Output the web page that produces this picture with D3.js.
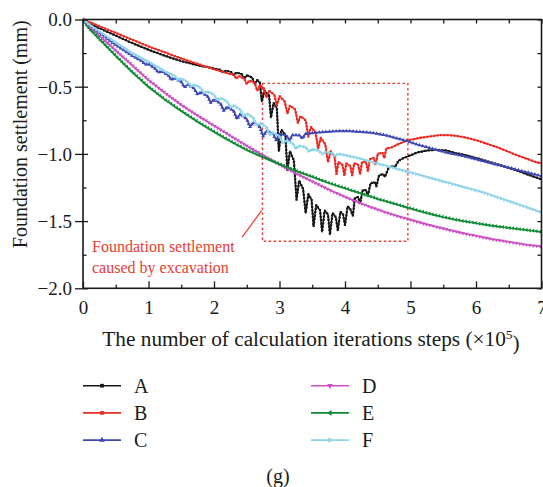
<!DOCTYPE html>
<html>
<head>
<meta charset="utf-8">
<script src="https://cdn.jsdelivr.net/npm/d3@7"></script>
<style>
  body { margin: 0; background: #fff; }
  text { font-family: "Liberation Serif", "DejaVu Serif", serif; fill: #1a1a1a; }
</style>
</head>
<body>
<div id="chart"></div>
<script>
// series names and colours
const seriesNames = ["A", "B", "C", "D", "E", "F"];
const seriesColors = ["#161616", "#ec2a22", "#3f47b3", "#cc4fc6", "#0e8c34", "#8dd5ea"];

// [calculation steps (x10^5), settlement (mm)]
const pointsA = [[0,0],[0.1,-0.03],[0.25,-0.065],[0.5,-0.12],[0.75,-0.175],[1.0,-0.225],[1.25,-0.27],[1.5,-0.31],[1.75,-0.34],[2.0,-0.365],
  [2.1,-0.375],[2.14,-0.395],[2.18,-0.38],[2.26,-0.39],[2.3,-0.415],[2.34,-0.395],[2.42,-0.405],[2.46,-0.44],[2.5,-0.415],[2.58,-0.43],
  [2.62,-0.48],[2.66,-0.45],[2.7,-0.47],[2.73,-0.61],[2.77,-0.53],[2.84,-0.56],[2.87,-0.73],[2.91,-0.62],[2.96,-0.66],[2.99,-0.98],
  [3.03,-0.82],[3.09,-0.86],[3.12,-1.12],[3.16,-0.98],[3.22,-1.05],[3.26,-1.34],[3.3,-1.2],[3.36,-1.26],[3.4,-1.44],[3.44,-1.3],
  [3.49,-1.34],[3.52,-1.54],[3.56,-1.38],[3.62,-1.42],[3.65,-1.58],[3.69,-1.42],[3.74,-1.45],[3.77,-1.6],[3.81,-1.44],[3.86,-1.47],
  [3.89,-1.57],[3.93,-1.43],[3.97,-1.45],[4.0,-1.53],[4.04,-1.39],[4.08,-1.41],[4.12,-1.46],[4.15,-1.33],[4.2,-1.32],[4.23,-1.37],
  [4.27,-1.27],[4.32,-1.27],[4.35,-1.31],[4.39,-1.22],[4.45,-1.21],[4.48,-1.24],[4.52,-1.16],[4.58,-1.15],[4.61,-1.17],[4.66,-1.11],
  [4.72,-1.09],[4.76,-1.1],[4.82,-1.05],[4.9,-1.03],[5.0,-1.01],[5.1,-0.99],[5.25,-0.975],[5.4,-0.97],[5.55,-0.975],[5.7,-0.995],
  [5.85,-1.01],[6.0,-1.03],[6.2,-1.06],[6.4,-1.09],[6.6,-1.12],[6.8,-1.155],[7.0,-1.19]];

const pointsB = [[0,0],[0.1,-0.02],[0.25,-0.05],[0.5,-0.1],[0.75,-0.15],[1.0,-0.2],[1.25,-0.245],[1.5,-0.29],[1.75,-0.33],[2.0,-0.37],
  [2.2,-0.4],[2.3,-0.41],[2.34,-0.44],[2.38,-0.42],[2.46,-0.44],[2.5,-0.48],[2.54,-0.455],[2.62,-0.47],[2.66,-0.53],[2.7,-0.49],
  [2.76,-0.51],[2.8,-0.58],[2.84,-0.53],[2.92,-0.56],[2.96,-0.64],[3.0,-0.57],[3.08,-0.61],[3.12,-0.7],[3.16,-0.64],[3.24,-0.67],
  [3.28,-0.77],[3.32,-0.72],[3.4,-0.75],[3.44,-0.87],[3.48,-0.8],[3.55,-0.84],[3.59,-0.96],[3.63,-0.88],[3.7,-0.93],[3.74,-1.06],
  [3.78,-0.98],[3.84,-1.02],[3.87,-1.15],[3.9,-1.06],[3.96,-1.08],[3.99,-1.16],[4.02,-1.07],[4.08,-1.09],[4.11,-1.16],[4.14,-1.07],
  [4.2,-1.08],[4.23,-1.15],[4.26,-1.06],[4.32,-1.06],[4.35,-1.13],[4.38,-1.04],[4.44,-1.03],[4.47,-1.08],[4.5,-1.0],[4.57,-0.99],
  [4.6,-1.03],[4.63,-0.96],[4.72,-0.95],[4.8,-0.93],[4.9,-0.91],[5.0,-0.895],[5.15,-0.88],[5.3,-0.87],[5.45,-0.86],[5.6,-0.86],
  [5.75,-0.87],[5.9,-0.885],[6.05,-0.905],[6.2,-0.93],[6.35,-0.955],[6.5,-0.985],[6.65,-1.015],[6.8,-1.04],[6.9,-1.06],[7.0,-1.07]];

const pointsC = [[0,0],[0.1,-0.05],[0.25,-0.1],[0.5,-0.19],[0.75,-0.27],[0.9,-0.31],[0.95,-0.335],[1.0,-0.33],[1.1,-0.365],[1.15,-0.395],
  [1.2,-0.385],[1.3,-0.415],[1.35,-0.45],[1.4,-0.435],[1.5,-0.465],[1.55,-0.505],[1.6,-0.485],[1.7,-0.515],[1.75,-0.56],[1.8,-0.54],
  [1.9,-0.57],[1.95,-0.62],[2.0,-0.595],[2.1,-0.625],[2.15,-0.68],[2.2,-0.65],[2.3,-0.68],[2.35,-0.74],[2.4,-0.705],[2.5,-0.74],
  [2.55,-0.8],[2.6,-0.765],[2.7,-0.8],[2.75,-0.87],[2.8,-0.83],[2.9,-0.85],[2.95,-0.9],[3.0,-0.85],[3.1,-0.86],[3.15,-0.9],
  [3.2,-0.86],[3.3,-0.86],[3.35,-0.885],[3.4,-0.85],[3.5,-0.845],[3.6,-0.84],[3.75,-0.835],[3.9,-0.83],[4.05,-0.83],[4.2,-0.835],
  [4.35,-0.84],[4.5,-0.85],[4.65,-0.865],[4.8,-0.885],[4.95,-0.905],[5.1,-0.93],[5.25,-0.95],[5.4,-0.97],[5.55,-0.99],[5.7,-1.005],
  [5.85,-1.02],[6.0,-1.04],[6.2,-1.065],[6.4,-1.09],[6.6,-1.115],[6.8,-1.14],[7.0,-1.165]];

const pointsD = [[0,0],[0.05,-0.03],[0.1,-0.055],[0.25,-0.12],[0.5,-0.23],[0.75,-0.34],[1.0,-0.45],[1.25,-0.545],[1.5,-0.635],[1.75,-0.715],
  [2.0,-0.79],[2.25,-0.865],[2.5,-0.94],[2.75,-1.01],[3.0,-1.08],[3.25,-1.145],[3.5,-1.205],[3.75,-1.265],[4.0,-1.32],[4.25,-1.37],
  [4.5,-1.415],[4.75,-1.455],[5.0,-1.49],[5.25,-1.525],[5.5,-1.555],[5.75,-1.585],[6.0,-1.61],[6.25,-1.635],[6.5,-1.655],[6.75,-1.675],
  [7.0,-1.69]];

const pointsE = [[0,0],[0.05,-0.04],[0.1,-0.07],[0.25,-0.145],[0.5,-0.27],[0.75,-0.39],[1.0,-0.5],[1.25,-0.595],[1.5,-0.68],[1.75,-0.76],
  [2.0,-0.835],[2.25,-0.905],[2.5,-0.97],[2.75,-1.025],[3.0,-1.075],[3.25,-1.125],[3.5,-1.17],[3.75,-1.215],[4.0,-1.255],[4.25,-1.295],
  [4.5,-1.335],[4.75,-1.37],[5.0,-1.405],[5.25,-1.44],[5.5,-1.47],[5.75,-1.495],[6.0,-1.515],[6.25,-1.535],[6.5,-1.55],[6.75,-1.565],
  [7.0,-1.58]];

const pointsF = [[0,0],[0.1,-0.04],[0.25,-0.09],[0.5,-0.17],[0.75,-0.25],[1.0,-0.315],[1.25,-0.385],[1.4,-0.42],[1.45,-0.45],[1.5,-0.44],
  [1.6,-0.465],[1.65,-0.5],[1.7,-0.485],[1.8,-0.51],[1.85,-0.55],[1.9,-0.535],[2.0,-0.56],[2.05,-0.6],[2.1,-0.585],[2.2,-0.61],
  [2.25,-0.655],[2.3,-0.64],[2.4,-0.67],[2.45,-0.72],[2.5,-0.7],[2.6,-0.73],[2.65,-0.79],[2.7,-0.77],[2.8,-0.8],[2.85,-0.86],
  [2.9,-0.84],[3.0,-0.87],[3.05,-0.92],[3.1,-0.9],[3.2,-0.92],[3.25,-0.96],[3.3,-0.94],[3.4,-0.95],[3.45,-0.985],[3.5,-0.965],
  [3.6,-0.975],[3.65,-1.0],[3.7,-0.985],[3.8,-0.995],[3.85,-1.015],[3.9,-1.0],[4.0,-1.01],[4.15,-1.025],[4.3,-1.045],[4.45,-1.065],
  [4.6,-1.085],[4.75,-1.105],[4.9,-1.125],[5.05,-1.145],[5.2,-1.165],[5.35,-1.185],[5.5,-1.205],[5.65,-1.225],[5.8,-1.245],[5.95,-1.265],
  [6.1,-1.285],[6.25,-1.31],[6.4,-1.335],[6.55,-1.36],[6.7,-1.385],[6.85,-1.41],[7.0,-1.435]];

const allPoints = [pointsA, pointsB, pointsC, pointsD, pointsE, pointsF];

// axis ticks and labels
const xTicks = [0, 1, 2, 3, 4, 5, 6, 7];
const xMinorTicks = [0.5, 1.5, 2.5, 3.5, 4.5, 5.5, 6.5];
const yTicks = [0, -0.5, -1, -1.5, -2];
const yMinorTicks = [-0.25, -0.75, -1.25, -1.75];
const xTitle = "The number of calculation iterations steps (\u00d710";
const xTitleSup = "5";
const yTitle = "Foundation settlement (mm)";
const noteLines = ["Foundation settlement", "caused by excavation"];
const panelLabel = "(g)";

const width = 543, height = 487;
const plot = { left: 83, right: 541.5, top: 19.5, bottom: 288.3 };

const svg = d3.select("#chart").append("svg")
    .attr("width", width)
    .attr("height", height);

const x = d3.scaleLinear().domain([0, 7]).range([plot.left, plot.right]);
const y = d3.scaleLinear().domain([-2, 0]).range([plot.bottom, plot.top]);

const symbolTypes = [d3.symbolSquare, d3.symbolSquare, d3.symbolTriangle, d3.symbolTriangle, d3.symbolTriangle, d3.symbolTriangle];
const symbolRotate = [0, 0, 0, 180, -90, 90];

svg.append("clipPath").attr("id", "clip")
  .append("rect")
    .attr("x", plot.left).attr("y", plot.top - 4)
    .attr("width", plot.right - plot.left).attr("height", plot.bottom - plot.top + 4);

// annotation box (behind the curves)
const note = svg.append("g").attr("stroke", "#ee3a30").attr("fill", "none");
note.append("rect")
    .attr("x", x(2.74)).attr("y", y(-0.475))
    .attr("width", x(4.96) - x(2.74)).attr("height", y(-1.65) - y(-0.475))
    .attr("stroke-width", 1.4)
    .attr("stroke-dasharray", "2.5,2.5");
note.append("line")
    .attr("x1", x(2.43)).attr("y1", y(-1.62))
    .attr("x2", x(2.73)).attr("y2", y(-1.42))
    .attr("stroke-width", 1.2);

// curves
const line = d3.line().x(d => x(d[0])).y(d => y(d[1]));
const curves = svg.append("g").attr("clip-path", "url(#clip)");

allPoints.forEach((pts, i) => {
    const path = curves.append("path")
        .datum(pts)
        .attr("fill", "none")
        .attr("stroke", seriesColors[i])
        .attr("stroke-width", 1.4)
        .attr("stroke-linejoin", "round")
        .attr("d", line);

    // dense small markers along the line, as in the original
    const node = path.node();
    const total = node.getTotalLength();
    const marks = [];
    for (let l = 0; l <= total; l += 3.4) marks.push(node.getPointAtLength(l));
    const sym = d3.symbol().type(symbolTypes[i]).size(i < 2 ? 5 : 7)();
    curves.append("g").selectAll("path")
        .data(marks)
        .join("path")
        .attr("d", sym)
        .attr("fill", seriesColors[i])
        .attr("transform", p => `translate(${p.x},${p.y}) rotate(${symbolRotate[i]})`);
});

// axes
const fmtY = d3.format(".1f");

const xAxis = svg.append("g")
    .attr("transform", `translate(0,${plot.bottom})`)
    .call(d3.axisBottom(x).tickValues(xTicks).tickSizeInner(-7).tickSizeOuter(0).tickPadding(12).tickFormat(d3.format("d")));
xAxis.selectAll("text").style("font-size", "19px");

svg.append("g")
    .attr("transform", `translate(0,${plot.bottom})`)
    .call(d3.axisBottom(x).tickValues(xMinorTicks).tickSize(-3.5).tickFormat(""));

svg.append("g")
    .attr("transform", `translate(0,${plot.top})`)
    .call(d3.axisTop(x).tickValues(xTicks.concat(xMinorTicks)).tickSize(-4).tickFormat(""));

const yAxis = svg.append("g")
    .attr("transform", `translate(${plot.left},0)`)
    .call(d3.axisLeft(y).tickValues(yTicks).tickSize(8).tickPadding(3).tickFormat(fmtY));
yAxis.selectAll("text").style("font-size", "19px").attr("dy", "0.34em");

svg.append("g")
    .attr("transform", `translate(${plot.left},0)`)
    .call(d3.axisLeft(y).tickValues(yTicks).tickSize(-5).tickFormat(""));
svg.append("g")
    .attr("transform", `translate(${plot.left},0)`)
    .call(d3.axisLeft(y).tickValues(yMinorTicks).tickSize(-3.5).tickFormat(""));

svg.append("g")
    .attr("transform", `translate(${plot.right},0)`)
    .call(d3.axisRight(y).tickValues(yTicks.concat(yMinorTicks)).tickSize(-4).tickFormat(""));

svg.selectAll(".domain").remove();
svg.selectAll(".tick line").attr("stroke", "#1a1a1a").attr("stroke-width", 1.3);
svg.selectAll(".tick text").attr("fill", "#1a1a1a");

// frame
svg.append("rect")
    .attr("x", plot.left).attr("y", plot.top)
    .attr("width", plot.right - plot.left).attr("height", plot.bottom - plot.top)
    .attr("fill", "none")
    .attr("stroke", "#1a1a1a")
    .attr("stroke-width", 1.6);

// axis titles
const xt = svg.append("text")
    .attr("x", 311).attr("y", 346)
    .attr("text-anchor", "middle")
    .style("font-size", "21.3px")
    .text(xTitle);
xt.append("tspan").attr("dy", "-0.55em").style("font-size", "13.5px").text(xTitleSup);
xt.append("tspan").attr("dy", "0.55em").text(")");

svg.append("text")
    .attr("transform", `translate(27,${(plot.top + 248) / 2 + 0.5}) rotate(-90)`)
    .attr("text-anchor", "middle")
    .style("font-size", "20px")
    .text(yTitle);

// annotation text
noteLines.forEach((t, i) => {
    svg.append("text")
        .attr("x", 92).attr("y", 252 + i * 21)
        .style("font-size", "16px")
        .style("fill", "#ea3b31")
        .text(t);
});

// legend
const legend = svg.append("g");
seriesNames.forEach((name, i) => {
    const col = Math.floor(i / 3), row = i % 3;
    const lx = col === 0 ? 83 : 311;
    const ly = 385.7 + row * 27.2;
    const g = legend.append("g").attr("transform", `translate(${lx},${ly})`);
    g.append("line").attr("x1", 0).attr("x2", 38).attr("y1", 0).attr("y2", 0)
        .attr("stroke", seriesColors[i]).attr("stroke-width", 1.6);
    g.append("path")
        .attr("d", d3.symbol().type(symbolTypes[i]).size(14)())
        .attr("transform", `translate(19,0) rotate(${symbolRotate[i]})`)
        .attr("fill", seriesColors[i]);
    g.append("text").attr("x", 51).attr("y", 0).attr("dy", "0.35em")
        .style("font-size", "20px")
        .text(name);
});

svg.append("text")
    .attr("x", 278).attr("y", 483)
    .attr("text-anchor", "middle")
    .style("font-size", "20px")
    .text(panelLabel);
</script>
</body>
</html>
